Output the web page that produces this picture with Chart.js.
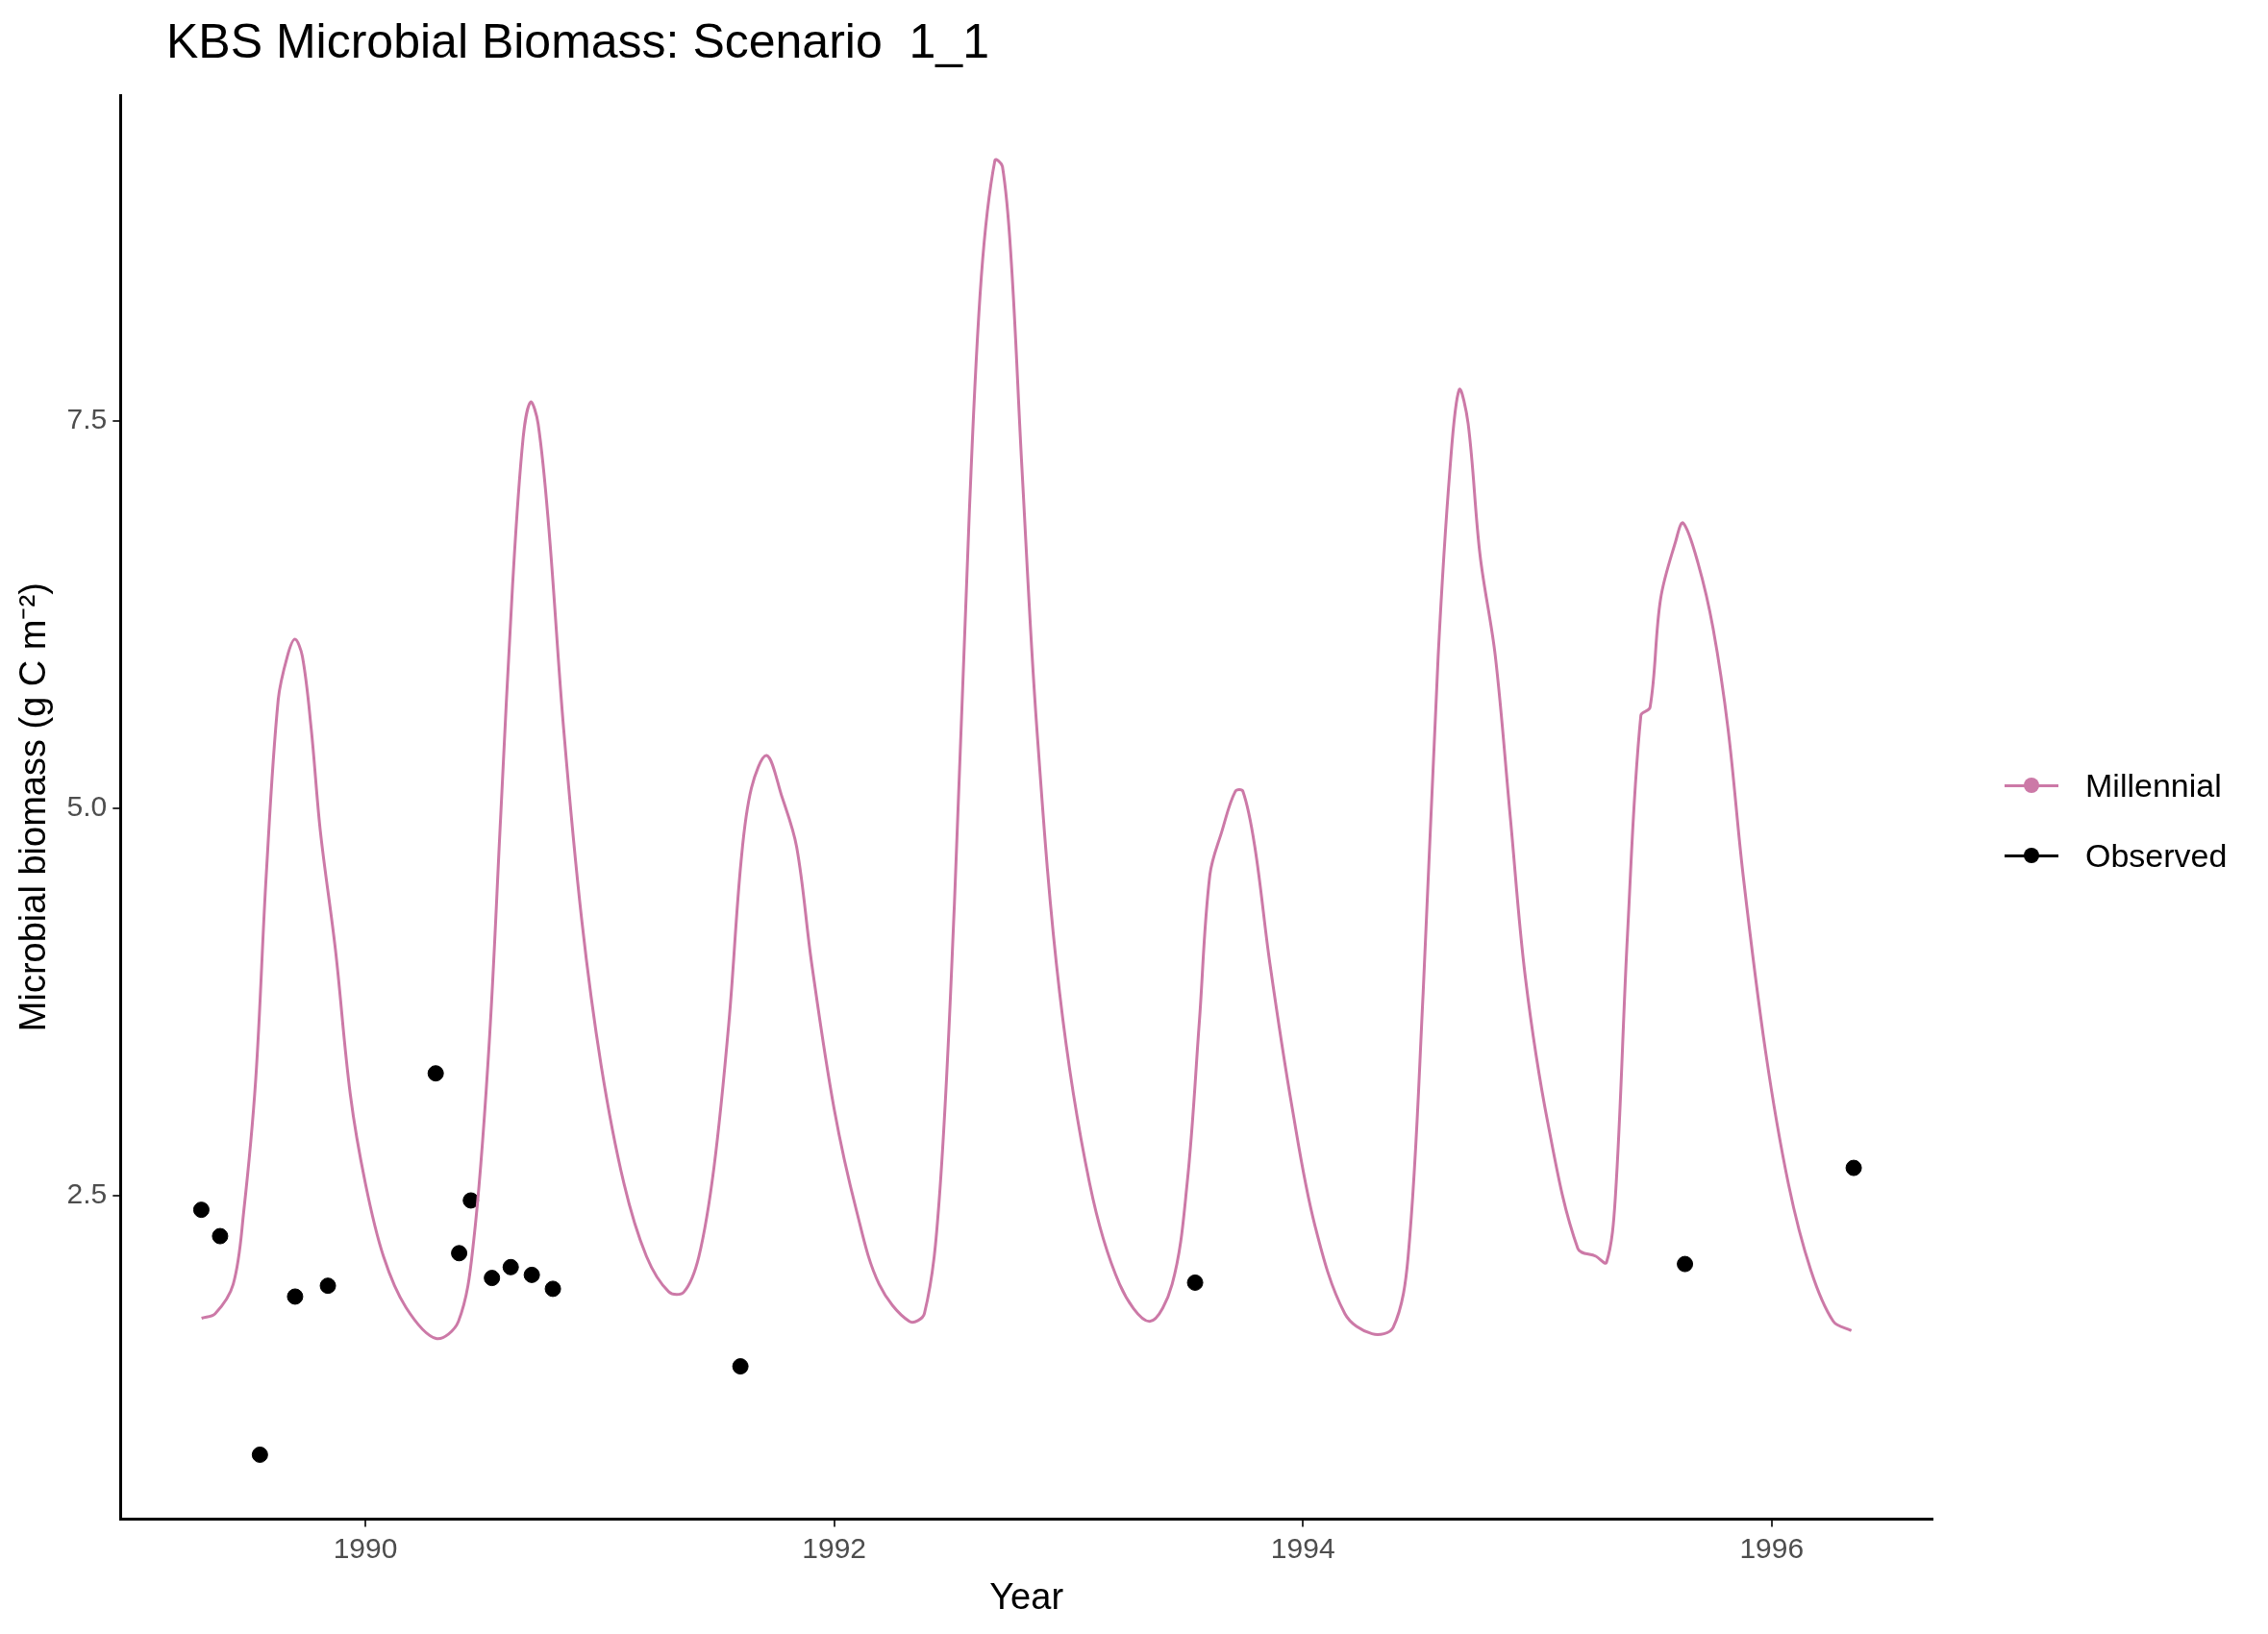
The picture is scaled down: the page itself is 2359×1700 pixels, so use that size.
<!DOCTYPE html>
<html>
<head>
<meta charset="utf-8">
<script src="https://cdn.jsdelivr.net/npm/chart.js@4"></script>
<style>
  body { margin: 0; background: #fff; font-family: Arial, "Liberation Sans", sans-serif; }
  #wrap { position: relative; width: 2359px; height: 1700px; }
  #title { position: absolute; left: 173px; top: 14px; font-size: 50px; color: #000; }
  .leg { position: absolute; left: 2085px; font-size: 34px; color: #000; display: flex; align-items: center; }
  .sw { position: relative; width: 56px; height: 40px; margin-right: 28px; }
  .sw .ln { position: absolute; left: 0; right: 0; top: 19px; height: 3px; }
  .sw .dt { position: absolute; left: 20px; top: 12px; width: 16px; height: 16px; border-radius: 50%; }
</style>
</head>
<body>
<div id="wrap">
  <canvas id="c" width="2359" height="1700"></canvas>
  <div id="title">KBS Microbial Biomass: Scenario&nbsp; 1_1</div>
  <div class="leg" style="top:797px"><div class="sw"><div class="ln" style="background:#CC79A7"></div><div class="dt" style="background:#CC79A7"></div></div>Millennial</div>
  <div class="leg" style="top:870px"><div class="sw"><div class="ln" style="background:#000"></div><div class="dt" style="background:#000"></div></div>Observed</div>
</div>
<script>
// Modelled microbial biomass (Millennial)
const modelYears = [1989.301, 1989.359, 1989.436, 1989.481, 1989.532, 1989.577, 1989.628, 1989.667, 1989.699, 1989.731,
  1989.769, 1989.808, 1989.872, 1989.936, 1990.000, 1990.077, 1990.173, 1990.301, 1990.397, 1990.462,
  1990.526, 1990.577, 1990.628, 1990.673, 1990.705, 1990.737, 1990.782, 1990.846, 1990.923, 1991.006,
  1991.103, 1991.199, 1991.295, 1991.359, 1991.423, 1991.487, 1991.551, 1991.603, 1991.647, 1991.712,
  1991.776, 1991.840, 1991.904, 1992.000, 1992.096, 1992.192, 1992.321, 1992.385, 1992.449, 1992.513,
  1992.577, 1992.628, 1992.686, 1992.718, 1992.756, 1992.801, 1992.865, 1992.962, 1993.090, 1993.218,
  1993.346, 1993.442, 1993.506, 1993.558, 1993.603, 1993.654, 1993.712, 1993.744, 1993.795, 1993.859,
  1993.955, 1994.051, 1994.179, 1994.295, 1994.385, 1994.449, 1994.513, 1994.577, 1994.628, 1994.667,
  1994.705, 1994.756, 1994.821, 1994.885, 1994.949, 1995.045, 1995.173, 1995.250, 1995.295, 1995.333,
  1995.385, 1995.442, 1995.481, 1995.526, 1995.590, 1995.622, 1995.686, 1995.750, 1995.814, 1995.878,
  1995.974, 1996.071, 1996.167, 1996.263, 1996.340];
const modelBiomass = [1.71, 1.74, 1.93, 2.40, 3.25, 4.57, 5.70, 5.98, 6.09, 5.98,
  5.51, 4.85, 4.09, 3.15, 2.58, 2.11, 1.78, 1.58, 1.69, 2.21,
  3.43, 4.94, 6.44, 7.39, 7.62, 7.48, 6.82, 5.51, 4.28, 3.34,
  2.58, 2.11, 1.88, 1.88, 2.11, 2.68, 3.62, 4.66, 5.13, 5.34,
  5.08, 4.75, 4.00, 3.06, 2.40, 1.93, 1.69, 1.74, 2.49, 4.38,
  6.92, 8.43, 9.18, 9.14, 8.52, 7.20, 5.51, 3.81, 2.58, 1.93,
  1.69, 1.93, 2.58, 3.62, 4.57, 4.85, 5.11, 5.11, 4.75, 4.00,
  3.06, 2.31, 1.74, 1.61, 1.65, 2.11, 3.81, 5.98, 7.20, 7.70,
  7.48, 6.63, 5.98, 4.94, 3.91, 2.97, 2.16, 2.11, 2.07, 2.49,
  4.19, 5.60, 5.65, 6.35, 6.72, 6.84, 6.58, 6.16, 5.51, 4.57,
  3.43, 2.58, 2.02, 1.69, 1.63];

// Observed samples
const obsYears = [1989.30, 1989.38, 1989.55, 1989.70, 1989.84, 1990.30, 1990.40, 1990.45,
  1990.54, 1990.62, 1990.71, 1990.80, 1991.60, 1993.54, 1995.63, 1996.35];
const obsBiomass = [2.41, 2.24, 0.83, 1.85, 1.92, 3.29, 2.13, 2.47,
  1.97, 2.04, 1.99, 1.90, 1.40, 1.94, 2.06, 2.68];

const xTicks = [1990, 1992, 1994, 1996];
const yTicks = [2.5, 5.0, 7.5];

const tickFont = { family: 'Arial, "Liberation Sans", sans-serif', size: 30 };
const titleFont = { family: 'Arial, "Liberation Sans", sans-serif', size: 38 };

new Chart(document.getElementById('c'), {
  type: 'scatter',
  data: {
    datasets: [
      {
        label: 'Millennial',
        type: 'line',
        data: modelYears.map((x, i) => ({ x, y: modelBiomass[i] })),
        borderColor: '#CC79A7',
        borderWidth: 3,
        pointRadius: 0,
        tension: 0.35,
        fill: false
      },
      {
        label: 'Observed',
        data: obsYears.map((x, i) => ({ x, y: obsBiomass[i] })),
        backgroundColor: '#000',
        borderColor: '#000',
        pointRadius: 8
      }
    ]
  },
  options: {
    responsive: false,
    animation: false,
    layout: { padding: { top: 99, right: 349, left: 10, bottom: 10 } },
    plugins: { legend: { display: false }, tooltip: { enabled: false } },
    scales: {
      x: {
        type: 'linear', min: 1988.955, max: 1996.686,
        afterBuildTicks: ax => { ax.ticks = xTicks.map(v => ({ value: v })); },
        ticks: { font: tickFont, color: '#4d4d4d', padding: 6, callback: v => String(v) },
        grid: { drawOnChartArea: false, drawTicks: true, tickLength: 8, color: '#333', lineWidth: 2 },
        border: { display: true, color: '#000', width: 3 },
        title: { display: true, text: 'Year', font: titleFont, color: '#000' }
      },
      y: {
        min: 0.415, max: 9.6,
        afterBuildTicks: ax => { ax.ticks = yTicks.map(v => ({ value: v })); },
        ticks: { font: tickFont, color: '#4d4d4d', padding: 6, callback: v => v.toFixed(1) },
        grid: { drawOnChartArea: false, drawTicks: true, tickLength: 8, color: '#333', lineWidth: 2 },
        border: { display: true, color: '#000', width: 3 },
        title: { display: true, text: 'Microbial biomass (g C m⁻²)', font: titleFont, color: '#000' }
      }
    }
  }
});
</script>
</body>
</html>
